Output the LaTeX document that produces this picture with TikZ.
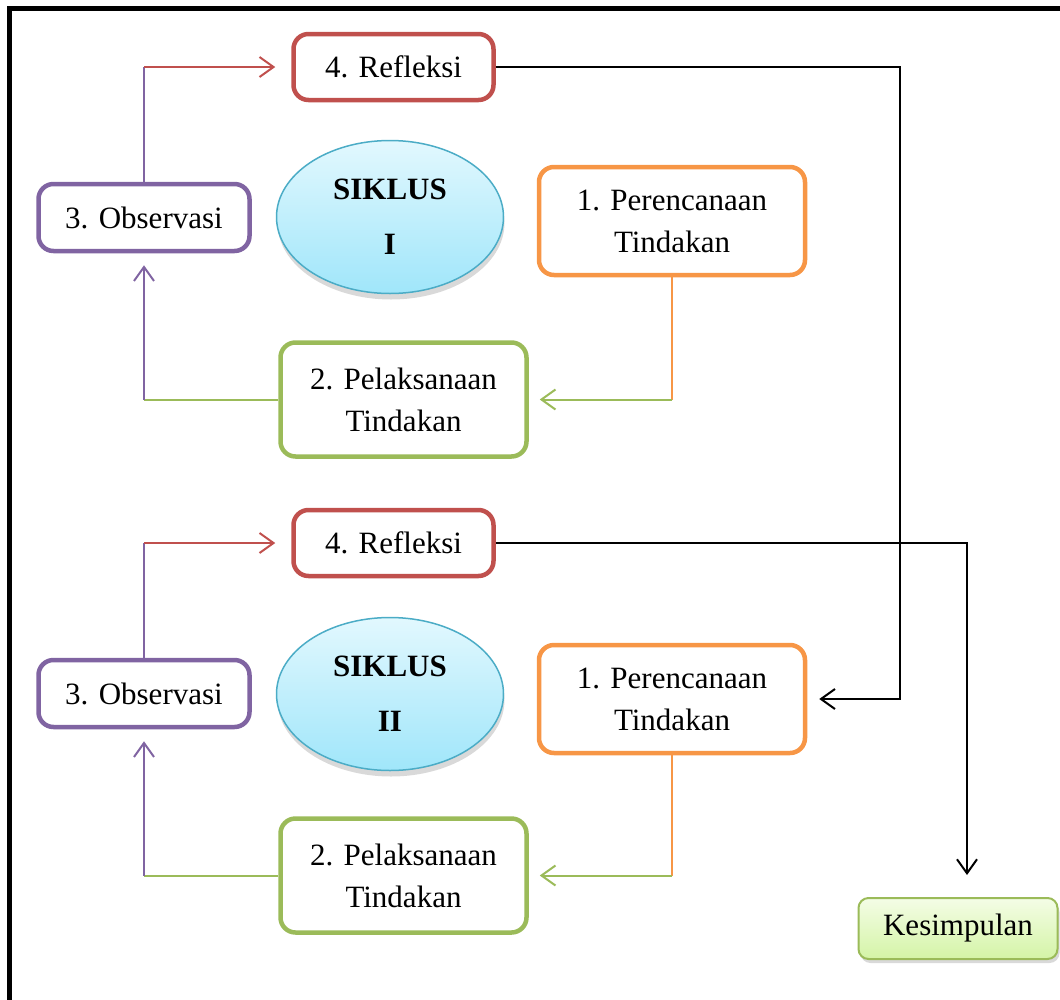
\documentclass[tikz,border=0pt]{standalone}
\usepackage{fontspec}
\setmainfont{Liberation Serif}
\usepackage{xcolor}
\usepackage{tikz}
\usetikzlibrary{arrows.meta,positioning,calc,shapes.geometric,shadows}
\definecolor{refred}{HTML}{C0504D}
\definecolor{obspurple}{HTML}{8064A2}
\definecolor{planorange}{HTML}{F79646}
\definecolor{actgreen}{HTML}{9BBB59}
\definecolor{cycleblue}{HTML}{4BACC6}

\begin{document}
\begin{tikzpicture}[
    x=1pt, y=-1pt,
    every node/.style={font=\fontsize{31}{42}\selectfont},
    box/.style={draw, rounded corners=15pt, line width=4.5pt, fill=white, align=center, inner sep=0pt},
    refbox/.style={box, draw=refred, minimum width=200pt, minimum height=66pt},
    obsbox/.style={box, draw=obspurple, minimum width=211pt, minimum height=67pt},
    planbox/.style={box, draw=planorange, minimum width=266pt, minimum height=108pt},
    actbox/.style={box, draw=actgreen, minimum width=246pt, minimum height=114pt},
    cycle/.style={ellipse, draw=cycleblue, line width=1.5pt, top color={rgb,255:red,226;green,248;blue,254}, bottom color={rgb,255:red,160;green,230;blue,250}, minimum width=227pt, minimum height=153pt, inner sep=0pt, align=center, font=\fontsize{31}{55}\selectfont\bfseries, drop shadow={opacity=0.3, shadow xshift=1pt, shadow yshift=-6pt}},
    endbox/.style={draw=actgreen, line width=2pt, rounded corners=10pt, top color={rgb,255:red,244;green,253;blue,230}, bottom color={rgb,255:red,212;green,244;blue,166}, minimum width=199pt, minimum height=61pt, inner sep=0pt, drop shadow={opacity=0.3, shadow xshift=2pt, shadow yshift=-4pt}},
    arr/.style={-{Straight Barb[length=14pt,width=20pt]}},
    link/.style={line width=2pt},
]
    \useasboundingbox (0,0) rectangle (1060,999);
    \clip (0,0) rectangle (1060,999);

    % Frame
    \draw[line width=5pt] (9.5,8.5) rectangle (1090,1030);

    % Siklus I
    \node[refbox] (ref1) at (393.5,67) {4. Refleksi};
    \node[obsbox] (obs1) at (144,217.5) {3. Observasi};
    \node[cycle] (cyc1) at (390,217) {SIKLUS\\I};
    \node[planbox] (plan1) at (672,221) {1. Perencanaan\\Tindakan};
    \node[actbox] (act1) at (403.5,399.5) {2. Pelaksanaan\\Tindakan};

    % Siklus II
    \node[refbox] (ref2) at (393.5,543) {4. Refleksi};
    \node[obsbox] (obs2) at (144,693.5) {3. Observasi};
    \node[cycle] (cyc2) at (390,694) {SIKLUS\\II};
    \node[planbox] (plan2) at (672,699) {1. Perencanaan\\Tindakan};
    \node[actbox] (act2) at (403.5,875.5) {2. Pelaksanaan\\Tindakan};

    % Output
    \node[endbox] (kes) at (958,928.5) {Kesimpulan};

    % Arrows, siklus I
    \draw[link, obspurple] (obs1.north) -- (obs1.north |- ref1.west) coordinate (o1);
    \draw[link, refred, arr, shorten >=16pt] (o1) -- (ref1.west);
    \draw[link, actgreen] (act1.west) -- (act1.west -| obs1.south) coordinate (a1);
    \draw[link, obspurple, arr, shorten >=12pt] (a1) -- (obs1.south);
    \draw[link, planorange] (plan1.south) -- (plan1.south |- act1.east) coordinate (p1);
    \draw[link, actgreen, arr, shorten >=11pt] (p1) -- (act1.east);

    % Arrows, siklus II
    \draw[link, obspurple] (obs2.north) -- (obs2.north |- ref2.west) coordinate (o2);
    \draw[link, refred, arr, shorten >=16pt] (o2) -- (ref2.west);
    \draw[link, actgreen] (act2.west) -- (act2.west -| obs2.south) coordinate (a2);
    \draw[link, obspurple, arr, shorten >=12pt] (a2) -- (obs2.south);
    \draw[link, planorange] (plan2.south) -- (plan2.south |- act2.east) coordinate (p2);
    \draw[link, actgreen, arr, shorten >=11pt] (p2) -- (act2.east);

    % Between cycles
    \coordinate (turn1) at (900,0);
    \coordinate (turn2) at (967,0);
    \draw[line width=2pt, arr, shorten >=12pt] (ref1.east) -- (ref1.east -| turn1) |- (plan2.east);
    \draw[line width=2pt, arr, shorten >=22pt] (ref2.east) -- (ref2.east -| turn2) -- (turn2 |- kes.north);
\end{tikzpicture}
\end{document}
